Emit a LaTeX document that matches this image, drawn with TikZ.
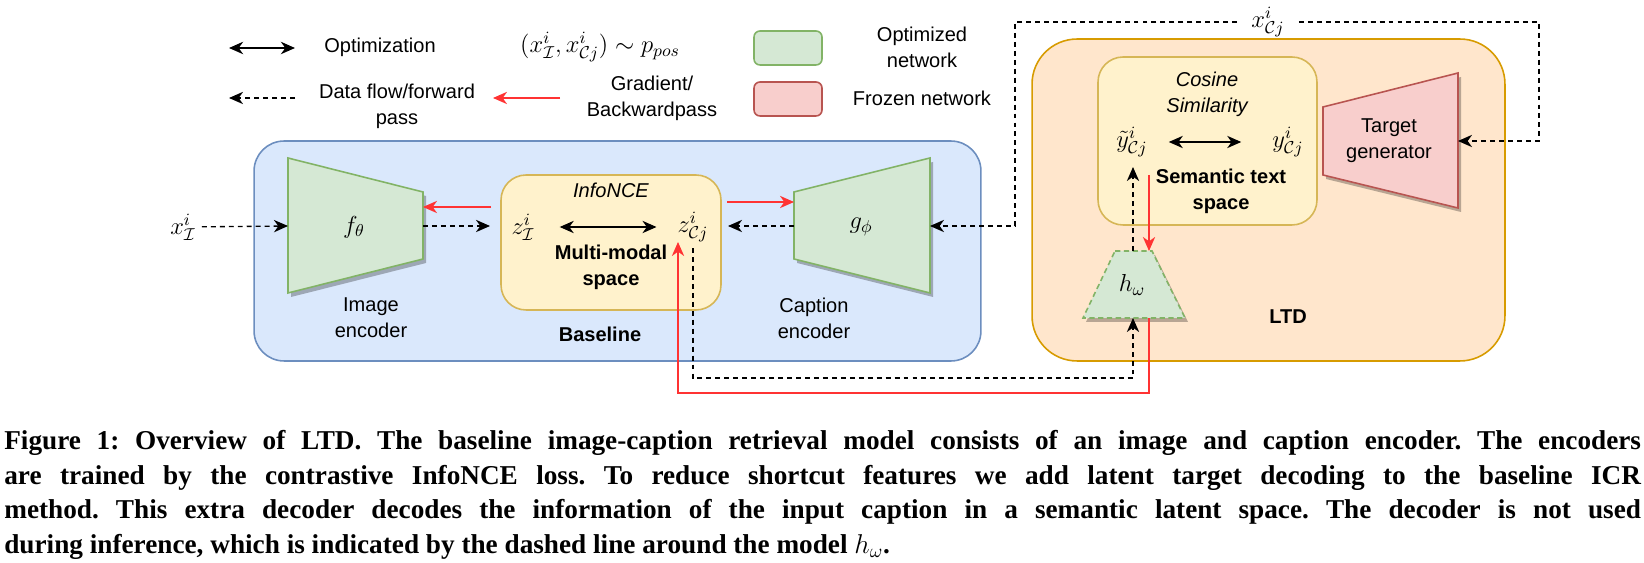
\documentclass[tikz,border=0pt]{standalone}
\usepackage{fix-cm}
\usepackage{fontspec}
\setmainfont{Liberation Sans}
\newfontfamily\capfont{Liberation Serif}
\usetikzlibrary{arrows.meta}

\definecolor{baseFill}{HTML}{DAE8FC}
\definecolor{baseLine}{HTML}{6C8EBF}
\definecolor{ltdFill}{HTML}{FFE6CC}
\definecolor{ltdLine}{HTML}{D79B00}
\definecolor{spaceFill}{HTML}{FFF2CC}
\definecolor{spaceLine}{HTML}{D6B656}
\definecolor{optFill}{HTML}{D5E8D4}
\definecolor{optLine}{HTML}{82B366}
\definecolor{frzFill}{HTML}{F8CECC}
\definecolor{frzLine}{HTML}{B85450}
\definecolor{gradRed}{HTML}{FF3333}

\newcommand{\lblsize}{\fontsize{11.4pt}{14.8pt}\selectfont}
\newcommand{\mathsize}{\fontsize{14pt}{16pt}\selectfont}

\tikzset{
    tip/.tip={Stealth[length=8pt,width=7pt,inset=2.5pt]},
    optarrow/.style={tip-tip, line width=0.7pt},
    flowarrow/.style={-tip, dash pattern=on 2.8pt off 2.3pt, line width=0.75pt},
    gradarrow/.style={-tip, draw=gradRed, line width=0.75pt},
    panel/.style={rectangle, inner sep=0pt, line width=0.9pt},
    netshadow/.style={fill=black, opacity=0.28},
    boldlbl/.style={font=\lblsize\bfseries, align=center},
    itlbl/.style={font=\lblsize\itshape, align=center},
    mathlbl/.style={font=\mathsize},
}

\begin{document}
\begin{tikzpicture}[x=0.02cm, y=-0.02cm, font=\lblsize]
    \useasboundingbox (0,0) rectangle (1644,563);

    % legend
    \coordinate (lgOptL) at (229,48);
    \coordinate (lgOptR) at (295,48);
    \coordinate (lgFlowL) at (229,98);
    \coordinate (lgFlowR) at (295,98);
    \coordinate (lgGradL) at (493,98);
    \coordinate (lgGradR) at (560,98);
    \draw[optarrow, line width=1.3pt] (lgOptL) -- (lgOptR);
    \draw[flowarrow] (lgFlowR) -- (lgFlowL);
    \draw[gradarrow] (lgGradR) -- (lgGradL);
    \node (lgOpt) at (380,47) {Optimization};
    \node[mathlbl] (lgPair) at (600,47) {$(x^i_{\mathcal{I}}, x^i_{\mathcal{C}j}) \sim p_{pos}$};
    \node[align=center] (lgFlow) at (397,106) {Data flow/forward\\pass};
    \node[align=center] (lgGrad) at (652,98) {Gradient/\\Backwardpass};
    \node[panel, draw=optLine, fill=optFill, minimum width=1.36cm, minimum height=0.68cm, rounded corners=0.12cm] (lgOptBox) at (788,48) {};
    \node[panel, draw=frzLine, fill=frzFill, minimum width=1.36cm, minimum height=0.68cm, rounded corners=0.12cm] (lgFrzBox) at (788,99) {};
    \node[align=center] (lgOptTxt) at (922,47) {Optimized\\network};
    \node (lgFrzTxt) at (922,98) {Frozen network};

    % baseline
    \node[panel, draw=baseLine, fill=baseFill, minimum width=14.54cm, minimum height=4.4cm, rounded corners=0.6cm] (base) at (617.5,251) {};
    \node[panel, draw=spaceLine, fill=spaceFill, minimum width=4.4cm, minimum height=2.7cm, rounded corners=0.5cm] (mm) at (611,242.5) {};
    \node[itlbl] (infonce) at (611,190) {InfoNCE};
    \node[mathlbl] (zI) at (523,227) {$z^i_{\mathcal{I}}$};
    \node[mathlbl] (zC) at (693,227) {$z^i_{\mathcal{C}j}$};
    \node[boldlbl] (mmTxt) at (611,267) {Multi-modal\\space};
    \node[boldlbl] (baseTxt) at (600,334) {Baseline};

    \fill[netshadow, shift={(3,4)}] (288,158) -- (423,192) -- (423,259) -- (288,293) -- cycle;
    \filldraw[fill=optFill, draw=optLine, line width=0.9pt] (288,158) -- (423,192) -- (423,259) -- (288,293) -- cycle;
    \node[mathlbl] (ft) at (354,227) {$f_\theta$};
    \node[align=center] (ftTxt) at (371,318) {Image\\encoder};

    \fill[netshadow, shift={(3,4)}] (794,192) -- (930,158) -- (930,293) -- (794,259) -- cycle;
    \filldraw[fill=optFill, draw=optLine, line width=0.9pt] (794,192) -- (930,158) -- (930,293) -- (794,259) -- cycle;
    \node[mathlbl] (gp) at (861,227) {$g_\phi$};
    \node[align=center] (gpTxt) at (814,318) {Caption\\encoder};

    % LTD
    \node[panel, draw=ltdLine, fill=ltdFill, minimum width=9.46cm, minimum height=6.44cm, rounded corners=0.9cm] (ltd) at (1268.5,200) {};
    \node[panel, draw=spaceLine, fill=spaceFill, minimum width=4.38cm, minimum height=3.36cm, rounded corners=0.5cm] (sts) at (1207.5,141) {};
    \node[itlbl] (cosTxt) at (1207,94.5) {Cosine\\Similarity};
    \node[mathlbl] (yt) at (1132,142) {$\tilde{y}^i_{\mathcal{C}j}$};
    \node[mathlbl] (y) at (1288,142) {$y^i_{\mathcal{C}j}$};
    \node[boldlbl] (stsTxt) at (1221,191) {Semantic text\\space};
    \node[boldlbl] (ltdTxt) at (1288,317) {LTD};

    \fill[netshadow, shift={(3,4)}] (1323,107) -- (1458,73) -- (1458,208) -- (1323,175) -- cycle;
    \filldraw[fill=frzFill, draw=frzLine, line width=0.9pt] (1323,107) -- (1458,73) -- (1458,208) -- (1323,175) -- cycle;
    \node[align=center] (tg) at (1389,141) {Target\\generator};

    \fill[netshadow, shift={(3,4)}] (1115,251) -- (1152,251) -- (1185,318) -- (1083,318) -- cycle;
    \filldraw[fill=optFill, draw=optLine, line width=0.9pt, dash pattern=on 3pt off 2pt] (1115,251) -- (1152,251) -- (1185,318) -- (1083,318) -- cycle;
    \node[mathlbl] (hw) at (1132,285) {$h_\omega$};

    % connector points
    \node[mathlbl] (xin) at (183,227) {$x^i_{\mathcal{I}}$};
    \node[mathlbl, inner xsep=8pt, inner ysep=1pt] (xc) at (1268,22) {$x^i_{\mathcal{C}j}$};
    \coordinate (ftIn) at (288,226);
    \coordinate (ftOut) at (423,226);
    \coordinate (ftBack) at (423,207);
    \coordinate (mmIn) at (490,226);
    \coordinate (mmGradL) at (491,207);
    \coordinate (mmGradR) at (727,202);
    \coordinate (gpBack) at (794,202);
    \coordinate (gpOut) at (794,226);
    \coordinate (mmOut) at (728,226);
    \coordinate (gpIn) at (930,226);
    \coordinate (xcTurnL) at (1015,226);
    \coordinate (tgIn) at (1458,141);
    \coordinate (xcTurnR) at (1539,141);
    \coordinate (hwTop) at (1133,251);
    \coordinate (hwBot) at (1133,318);
    \coordinate (loopD) at (1133,378);
    \coordinate (ytIn) at (1133,167);
    \coordinate (stsGrad) at (1149,175);
    \coordinate (hwTopR) at (1149,251);
    \coordinate (hwBotR) at (1149,318);
    \coordinate (loopL) at (678,393);
    \coordinate (zCGrad) at (678,242);

    % data flow
    \draw[flowarrow] (xin) -- (ftIn);
    \draw[flowarrow] (ftOut) -- (mmIn);
    \draw[flowarrow] (gpOut) -- (mmOut);
    \draw[flowarrow] (xc) -| (xcTurnL) -- (gpIn);
    \draw[flowarrow] (xc) -| (xcTurnR) -- (tgIn);
    \draw[flowarrow] (zC) |- (loopD) -- (hwBot);
    \draw[flowarrow] (hwTop) -- (ytIn);

    % optimization
    \draw[optarrow, shorten <=0.38cm, shorten >=0.3cm] (zI) -- (zC);
    \draw[optarrow, shorten <=0.3cm, shorten >=0.5cm] (yt) -- (y);

    % gradients
    \draw[gradarrow] (mmGradL) -- (ftBack);
    \draw[gradarrow] (mmGradR) -- (gpBack);
    \draw[gradarrow] (stsGrad) -- (hwTopR);
    \draw[gradarrow] (hwBotR) |- (loopL) -- (zCGrad);

    % caption
    \node[anchor=north west, text width=32.74cm, align=justify, inner sep=0pt,
          font=\capfont\bfseries\fontsize{15.5pt}{19.75pt}\selectfont] (cap) at (4,430)
        {\frenchspacing\hyphenpenalty=10000\relax
         Figure 1: Overview of LTD. The baseline image-caption retrieval model consists of an image and caption encoder. The encoders\linebreak
         are trained by the contrastive InfoNCE loss. To reduce shortcut features we add latent target decoding to the baseline ICR\linebreak
         method. This extra decoder decodes the information of the input caption in a semantic latent space. The decoder is not used\linebreak
         during inference, which is indicated by the dashed line around the model $h_{\omega}$.};
\end{tikzpicture}
\end{document}
